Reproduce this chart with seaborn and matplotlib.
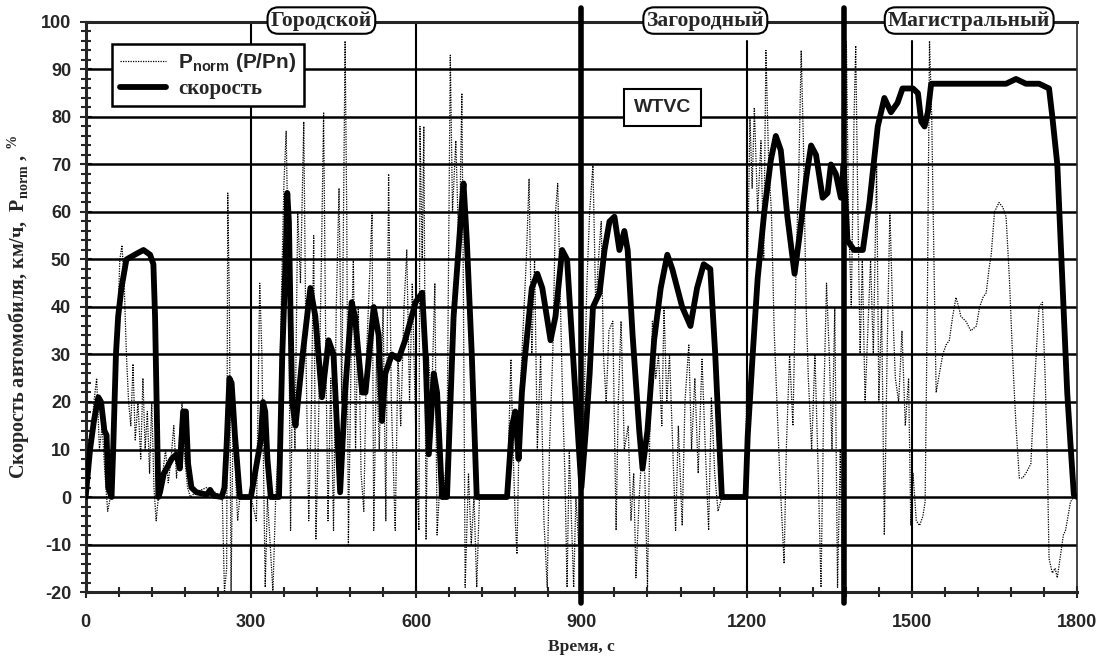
import numpy as np
import pandas as pd
import seaborn as sns
import matplotlib.pyplot as plt
from matplotlib.ticker import MultipleLocator

# WTVC cycle: vehicle speed (km/h) and normalised power (%)
speed_t = [0, 8, 15, 23, 28, 34, 38, 41, 47, 50, 55, 59, 65, 74, 89, 105, 117, 123, 126, 132,
           135, 142, 147, 156, 165, 171, 177, 182, 186, 192, 201, 220, 226, 232, 247, 252, 256,
           261, 265, 271, 280, 300, 318, 322, 326, 330, 336, 351, 357, 363, 366, 369, 372, 375,
           381, 394, 408, 417, 429, 441, 450, 462, 471, 483, 489, 502, 508, 523, 532, 538, 544,
           556, 568, 580, 599, 611, 617, 623, 632, 638, 647, 656, 668, 680, 686, 692, 701, 710,
           765, 774, 780, 786, 792, 798, 810, 820, 829, 844, 853, 865, 874, 889, 900, 908, 915,
           921, 933, 942, 951, 960, 969, 978, 984, 993, 1005, 1011, 1020, 1032, 1044, 1056, 1065,
           1083, 1098, 1110, 1122, 1134, 1143, 1155, 1198, 1202, 1211, 1220, 1232, 1244, 1253,
           1262, 1274, 1287, 1296, 1308, 1317, 1326, 1338, 1347, 1353, 1362, 1371, 1376, 1383,
           1395, 1411, 1423, 1438, 1450, 1462, 1474, 1483, 1498, 1502, 1511, 1517, 1523, 1529,
           1535, 1562, 1611, 1653, 1671, 1689, 1707, 1731, 1749, 1755, 1764, 1770, 1776, 1782,
           1788, 1794, 1800]
speed_v = [0, 10, 16, 21, 20, 14, 13, 2, 0, 10, 30, 38, 44, 50, 51, 52, 51, 49, 38, 0,
           1, 5, 6, 8, 9, 6, 18, 18, 7, 2, 1, 0.5, 1.5, 0.3, 0, 2, 11,
           25, 24, 13, 0, 0, 12, 20, 18, 8, 0, 0, 30, 50, 64, 58, 38, 20,
           15, 30, 44, 38, 21, 33, 30, 1, 22, 41, 38, 22, 22, 40, 34, 16, 26,
           30, 29, 33, 41, 43, 30, 9, 26, 22, 0, 0, 38, 57, 66, 54, 30, 0,
           0, 15, 18, 8, 22, 30, 44, 47, 44, 33, 38, 52, 50, 22, 2, 14, 26,
           40, 43, 52, 58, 59, 52, 56, 52, 34, 14, 6, 14, 33, 44, 51, 48,
           40, 36, 44, 49, 48, 30, 0, 0, 13, 30, 46, 60, 71, 76,
           73, 59, 47, 55, 67, 74, 72, 63, 64, 70, 68, 63, 70, 54,
           52, 52, 62, 78, 84, 81, 83, 86, 86, 86, 85, 79, 78, 81,
           87, 87, 87, 87, 87, 88, 87, 87, 86, 80, 70, 54, 38, 22,
           11, 0.5, 0]

power_t = [0, 5, 10, 15, 20, 25, 30, 35, 40, 45, 50, 55, 58, 62, 66, 70, 74, 78, 82, 86, 90,
           95, 100, 104, 108, 112, 116, 120, 124, 128, 132, 136, 140, 145, 150, 155, 160, 165,
           170, 175, 180, 185, 190, 200, 220, 235, 248, 252, 256, 258, 261, 264, 268, 272, 276,
           280, 300, 310, 316, 320, 326, 330, 340, 345, 350, 355, 360, 364, 368, 372, 376, 380,
           385, 390, 396, 400, 405, 410, 414, 418, 422, 428, 432, 436, 440, 445, 450, 455, 460,
           465, 471, 474, 477, 482, 486, 490, 495, 500, 505, 510, 515, 520, 523, 528, 533, 540,
           545, 550, 555, 562, 567, 572, 578, 583, 588, 593, 600, 605, 607, 611, 614, 618, 622,
           628, 634, 638, 644, 650, 656, 662, 666, 672, 678, 683, 686, 689, 695, 700, 705, 710,
           715, 765, 770, 772, 776, 780, 783, 788, 794, 800, 805, 810, 815, 820, 826, 832, 838,
           842, 848, 853, 857, 862, 866, 870, 874, 878, 882, 886, 890, 895, 900, 905, 910, 915,
           921, 926, 931, 936, 940, 945, 950, 957, 963, 967, 972, 978, 985, 990, 995, 999, 1005,
           1010, 1015, 1020, 1025, 1029, 1035, 1040, 1046, 1050, 1055, 1060, 1066, 1071, 1076,
           1083, 1088, 1095, 1100, 1106, 1112, 1119, 1125, 1131, 1136, 1142, 1148, 1155, 1198,
           1202, 1206, 1210, 1214, 1220, 1226, 1231, 1235, 1240, 1245, 1250, 1255, 1260, 1268,
           1272, 1278, 1284, 1290, 1295, 1299, 1303, 1308, 1312, 1318, 1324, 1330, 1335, 1340,
           1345, 1350, 1355, 1360, 1365, 1370, 1374, 1378, 1381, 1385, 1390, 1395, 1398, 1402,
           1406, 1410, 1415, 1420, 1425, 1430, 1436, 1440, 1445, 1450, 1455, 1460, 1465, 1470,
           1476, 1482, 1488, 1494, 1498, 1502, 1508, 1514, 1520, 1524, 1528, 1532, 1536, 1540,
           1544, 1550, 1556, 1562, 1568, 1574, 1580, 1585, 1589, 1598, 1607, 1617, 1623, 1629,
           1635, 1640, 1644, 1650, 1658, 1665, 1671, 1677, 1683, 1689, 1695, 1701, 1707, 1716,
           1722, 1728, 1731, 1737, 1742, 1746, 1749, 1755, 1760, 1764, 1770, 1775, 1779, 1785,
           1788, 1794, 1800]
power_v = [0, 5, 12, 20, 25, 10, 15, 5, -3, 0, 10, 30, 35, 50, 53, 45, 30, 20, 15, 28, 12,
           20, 8, 25, 10, 18, 5, 20, 2, -5, 0, 2, 5, 10, 3, 8, 15, 4,
           12, 20, 8, 2, 0, 1, 2, 1, 0, -20, -15, 64, 40, -20, 20, 5, -5,
           0, 0, -5, 45, 30, -19, 0, -20, 0, 10, 40, 66, 77, 50, -7, 30, 10,
           60, 45, 79, 30, -5, 20, 55, -9, 10, 50, 81, 30, -5, 25, -7, 40, 65,
           20, 96, 60, -10, 30, 50, 10, 40, 5, -3, 30, 45, 60, -7, 30, 10, 40,
           -5, 68, 20, -7, 30, 15, 40, 52, 20, 45, 10, -7, 78, 50, 78, -9, 30,
           20, 45, -8, 5, 0, 10, 93, 60, 75, 50, 85, 40, -19, 5, -10, 0, -19,
           0, 0, 20, 29, 10, -5, -12, 20, 35, 50, 67, 30, 50, 10, 30, -5, -19,
           10, 30, 60, 66, 40, 20, 5, -19, 10, -5, -19, 0, -10, 0, 20, 45, 60,
           70, 40, 50, 58, 30, 20, 35, 37, -7, 20, 37, 10, 15, -5, 5, -17, 0,
           10, 5, -19, 20, 37, 25, 30, 15, 40, 20, 30, 10, -7, 15,
           -6, 20, 32, 10, 25, 5, 29, 10, -7, 21, 5, -3, 0, 0,
           50, 80, 65, 82, 60, 75, 50, 94, 70, 60, 35, 20, 5, -14,
           10, 30, 15, 50, 70, 94, 75, 40, 25, 10, 30, 5, -19, 20,
           45, 30, 10, 40, -19, 10, -19, 50, 96, 60, 40, 80, 95, 60,
           30, 50, 20, 35, 50, 30, 70, 20, 40, -8, 30, 60, 40, 25,
           20, 35, 15, 25, -6, 5, -5, -6, -4, -1, 40, 96, 80, 50,
           22, 26, 30, 32, 33, 38, 42, 40, 38, 37, 35, 36, 40, 42,
           43, 48, 51, 60, 62, 61, 59, 46, 29, 15, 4, 4, 5, 7,
           22, 35, 40, 41, 25, 7, -13, -16, -15, -17, -12, -8, -7, -3,
           -1, 0, 0]

x_ticks = [0, 300, 600, 900, 1200, 1500, 1800]
y_ticks = list(range(-20, 101, 10))
phase_names = ["Городской", "Загородный", "Магистральный"]
phase_pos = [428, 1125, 1604]
phase_bounds = [900, 1377]

sns.set_style("ticks")
plt.rcParams["font.family"] = ["Liberation Sans", "DejaVu Sans"]
plt.rcParams["axes.unicode_minus"] = False
plt.rcParams["mathtext.fontset"] = "custom"
plt.rcParams["mathtext.rm"] = "Liberation Serif:bold"
plt.rcParams["mathtext.sf"] = "Liberation Sans:bold"

df_speed = pd.DataFrame({"t": speed_t, "v": speed_v})
df_power = pd.DataFrame({"t": power_t, "p": power_v})

fig = plt.figure(figsize=(10.98, 6.70), dpi=100)
ax = fig.add_axes([0.078, 0.1164, 0.903, 0.8508])

# grid
for y in y_ticks:
    ax.axhline(y, color="black", lw=1.8, zorder=1)
for x in [300, 600]:
    ax.axvline(x, color="black", lw=1.5, zorder=1)
for x in [1200, 1500]:
    ax.axvline(x, color="black", lw=1.5, ymax=(96 + 20) / 120, zorder=1)
for x in phase_bounds:
    ax.axvline(x, color="black", lw=4, ymin=-0.02, ymax=1.025, clip_on=False, zorder=4)

sns.lineplot(data=df_power, x="t", y="p", ax=ax, color="black", lw=0.9,
             linestyle=(0, (1, 1)), sort=False, estimator=None,
             label="$\\mathsf{P}_{\\mathsf{norm}}$ (P/Pn)", zorder=2)
sns.lineplot(data=df_speed, x="t", y="v", ax=ax, color="black", lw=4.2,
             sort=False, estimator=None, label="скорость", zorder=3)

ax.set_xlim(0, 1800)
ax.set_ylim(-20, 100)
ax.set_xticks(x_ticks)
ax.set_yticks(y_ticks)
ax.xaxis.set_minor_locator(MultipleLocator(60))
ax.yaxis.set_minor_locator(MultipleLocator(2))
ax.tick_params(axis="both", which="major", direction="inout", length=9, width=1.5,
               labelsize=13)
ax.tick_params(axis="both", which="minor", direction="inout", length=7, width=1.5)
ax.tick_params(axis="x", pad=11)
ax.tick_params(axis="y", pad=6)
for lab in ax.get_xticklabels() + ax.get_yticklabels():
    lab.set_fontweight("bold")
for side in ["left", "bottom", "top"]:
    ax.spines[side].set_linewidth(2.2)
ax.spines["right"].set_linewidth(1.2)

ax.set_xlabel("Время, с", family="Liberation Serif", fontweight="bold", fontsize=12.5,
              labelpad=6)
ax.set_ylabel("Скорость автомобиля, км/ч,  P$_{\\mathrm{norm}}$ , $^{\\%}$",
              family="Liberation Serif", fontweight="bold", fontsize=14.5, labelpad=6)

for name, pos in zip(phase_names, phase_pos):
    ax.text(pos, 100.3, name, ha="center", va="center", family="Liberation Serif",
            fontweight="bold", fontsize=15.5, zorder=6, clip_on=False,
            bbox=dict(boxstyle="round,pad=0.15,rounding_size=0.5", fc="white",
                      ec="black", lw=1.5))

ax.text(1047, 82, "WTVC", ha="center", va="center", fontweight="bold", fontsize=14,
        zorder=6, bbox=dict(boxstyle="square,pad=0.5", fc="white", ec="black", lw=1.5))

leg = ax.legend(loc="upper left", bbox_to_anchor=(0.027, 0.962), borderaxespad=0,
                frameon=True, fancybox=False, framealpha=1, edgecolor="black",
                fontsize=15, handlelength=2.2, handletextpad=0.6, borderpad=0.35,
                labelspacing=0.25)
leg.get_frame().set_linewidth(1.8)
leg.set_zorder(7)
texts = leg.get_texts()
texts[0].set_fontweight("bold")
texts[1].set_family("Liberation Serif")
texts[1].set_fontweight("bold")

plt.savefig("out.png", dpi=100)
